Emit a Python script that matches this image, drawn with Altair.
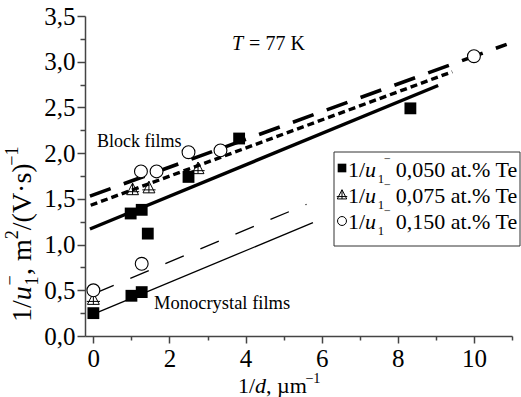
import altair as alt
import pandas as pd

FONT = "Liberation Serif"

# ---------------- data ----------------
sq_x = [0.0, 1.0, 1.27, 0.98, 1.27, 1.43, 2.5, 3.83, 8.33]
sq_y = [0.25, 0.44, 0.48, 1.34, 1.38, 1.12, 1.74, 2.16, 2.49]

tri_x = [0.0, 1.03, 1.46, 2.75]
tri_y = [0.40, 1.60, 1.62, 1.83]

cir_x = [0.0, 1.27, 1.25, 1.66, 2.5, 3.34, 10.0]
cir_y = [0.50, 0.79, 1.80, 1.80, 2.01, 2.03, 3.06]

# fitted straight lines: start and end points
line_names = ["block_050", "block_075", "block_150", "mono_050", "mono_150"]
line_x0 = [-0.09, -0.07, -0.09, 0.0, 0.05]
line_y0 = [1.17, 1.43, 1.53, 0.24, 0.47]
line_x1 = [9.06, 9.43, 10.86, 5.77, 5.6]
line_y1 = [2.74, 2.89, 3.19, 1.24, 1.44]

legend_conc = ["0,050", "0,075", "0,150"]

x_ticks = list(range(0, 12))
y_ticks = [i * 0.25 for i in range(15)]

# ---------------- layout ----------------
PL, PT, PR, PB = 85, 16, 9, 61
W, H = 427, 320

# Times-compatible advance widths (1/1000 em) for composing rich text
W_N = {'1': 500, '/': 278, ',': 250, ' ': 250, 'm': 778, '(': 333, ')': 333,
       'V': 722, '·': 250, 's': 389, '2': 500, '−': 564, 'µ': 500, '0': 500,
       '5': 500, '7': 500, '.': 250, '%': 833, 'T': 611, 'e': 444, 'a': 444,
       't': 278, 'K': 722, '=': 564, 'u': 500, 'd': 500}
W_I = {'u': 500, 'd': 500, 'T': 556}


def text_width(s, italic):
    tab = W_I if italic else W_N
    return sum(tab.get(c, W_N.get(c, 500)) for c in s) / 1000.0


def compose(pieces, x0, y0, F, rotated=False):
    out = []
    adv = 0.0
    for txt, ital, sc, shift, stack, gap in pieces:
        adv += gap * F
        fs = F * sc
        if rotated:
            px, py = x0 - shift * F, y0 - adv
        else:
            px, py = x0 + adv, y0 - shift * F
        out.append(dict(text=txt, italic=ital, size=fs, px=px, py=py,
                        angle=270 if rotated else 0))
        if not stack:
            adv += text_width(txt, ital) * fs
    return out


pieces = []
# y axis title: 1/u_1^-, m^2/(V·s)^-1
pieces += compose([
    ("1/", False, 1, 0, False, 0),
    ("u", True, 1, 0, False, 0),
    ("1", False, 0.65, -0.25, True, 0.03),
    ("−", False, 0.65, 0.55, False, 0),
    (", m", False, 1, 0, False, 0),
    ("2", False, 0.65, 0.45, False, 0),
    ("/(V·s)", False, 1, 0, False, 0),
    ("−1", False, 0.65, 0.45, False, 0),
], 31, 322, 28, rotated=True)
# x axis title: 1/d, µm^-1
pieces += compose([
    ("1/", False, 1, 0, False, 0),
    ("d", True, 1, 0, False, 0),
    (", µm", False, 1, 0, False, 0),
    ("−1", False, 0.65, 0.45, False, 0),
], 238, 393, 22)
# T = 77 K
pieces += compose([
    ("T", True, 1, 0, False, 0),
    ("= 77 K", False, 1, 0, False, 0.3),
], 232, 50, 20)
# annotations
pieces += compose([("Block films", False, 1, 0, False, 0)], 97, 147, 18)
pieces += compose([("Monocrystal films", False, 1, 0, False, 0)], 154, 309, 18.5)
# legend labels
for i, c in enumerate(legend_conc):
    base = 177 + i * 26
    pieces += compose([
        ("1/", False, 1, 0, False, 0),
        ("u", True, 1, 0, False, 0),
        ("1", False, 0.58, -0.28, False, 0.07),
        ("−", False, 0.55, 0.62, False, 0),
        (c + " at.% Te", False, 1, 0, False, 0.22),
    ], 348, base, 22)

# ---------------- scales / axes ----------------
xscale = alt.Scale(domain=[-0.22, 11], nice=False, zero=False)
yscale = alt.Scale(domain=[0, 3.5], nice=False, zero=False)
AX = "#444444"
xaxis = alt.Axis(values=x_ticks, title=None, grid=False,
                 labelExpr="datum.value % 2 == 0 ? datum.label : ''",
                 tickSize={"condition": {"test": "datum.value % 2 == 0", "value": 7}, "value": 4},
                 labelFont=FONT, labelFontSize=25, labelColor="black",
                 labelFlush=False, labelOverlap=False, labelBound=False,
                 domainColor=AX, tickColor=AX, domainWidth=1.5, tickWidth=1.5,
                 labelPadding=3)
yaxis = alt.Axis(values=y_ticks, title=None, grid=False,
                 labelExpr="datum.value % 0.5 == 0 ? replace(format(datum.value, '.1f'), '.', ',') : ''",
                 tickSize={"condition": {"test": "datum.value % 0.5 == 0", "value": 8}, "value": 5},
                 labelFont=FONT, labelFontSize=25, labelColor="black",
                 labelFlush=False, labelOverlap=False, labelBound=False,
                 domainColor=AX, tickColor=AX, domainWidth=1.5, tickWidth=1.5,
                 labelPadding=2)


def X(f="x"):
    return alt.X(f + ":Q", scale=xscale, axis=xaxis)


def Y(f="y"):
    return alt.Y(f + ":Q", scale=yscale, axis=yaxis)


layers = []

# fitted lines
line_styles = {
    "block_050": dict(strokeWidth=3.4),
    "block_075": dict(strokeWidth=3.4, strokeDash=[7, 4]),
    "block_150": dict(strokeWidth=3.6, strokeDash=[22, 14]),
    "mono_050": dict(strokeWidth=1.3),
    "mono_150": dict(strokeWidth=1.3, strokeDash=[20, 18]),
}
for n, a, b, c, d in zip(line_names, line_x0, line_y0, line_x1, line_y1):
    df = pd.DataFrame({"x": [a], "y": [b], "x1": [c], "y1": [d]})
    layers.append(
        alt.Chart(df).mark_rule(color="black", strokeCap="butt", **line_styles[n]).encode(
            x=X(), y=Y(), x2="x1:Q", y2="y1:Q")
    )

TRI = "M0,-1L0.9,0.75L-0.9,0.75Z M-1,0.3L1,0.3 M0,-1L0,0.75"

layers.append(alt.Chart(pd.DataFrame({"x": sq_x, "y": sq_y})).mark_point(
    shape="square", filled=True, color="black", size=140, opacity=1).encode(x=X(), y=Y()))
layers.append(alt.Chart(pd.DataFrame({"x": tri_x, "y": tri_y})).mark_point(
    shape=TRI, filled=False, color="black", size=175, strokeWidth=1, opacity=1).encode(x=X(), y=Y()))
layers.append(alt.Chart(pd.DataFrame({"x": cir_x, "y": cir_y})).mark_point(
    shape="circle", filled=True, fill="white", stroke="black", strokeWidth=1.1,
    size=165, opacity=1, fillOpacity=1).encode(x=X(), y=Y()))

dummy = pd.DataFrame({"d": [0]})

# legend box
layers.append(alt.Chart(dummy).mark_rect(fill="white", stroke="#333333", strokeWidth=1).encode(
    x=alt.value(334 - PL), x2=alt.value(520 - PL), y=alt.value(152 - PT), y2=alt.value(246 - PT)))
# legend symbols
leg_y = [168, 195, 221]
layers.append(alt.Chart(dummy).mark_point(shape="square", filled=True, color="black", size=75, opacity=1).encode(
    x=alt.value(342 - PL), y=alt.value(leg_y[0] - PT)))
layers.append(alt.Chart(dummy).mark_point(shape=TRI, filled=False, color="black", size=110, strokeWidth=1, opacity=1).encode(
    x=alt.value(342 - PL), y=alt.value(leg_y[1] - PT)))
layers.append(alt.Chart(dummy).mark_point(shape="circle", filled=True, fill="white", stroke="black", size=80, strokeWidth=1, opacity=1).encode(
    x=alt.value(342 - PL), y=alt.value(leg_y[2] - PT)))

# rich text pieces
for p in pieces:
    layers.append(alt.Chart(dummy).mark_text(
        text=p["text"], font=FONT, fontSize=p["size"],
        fontStyle="italic" if p["italic"] else "normal",
        align="left", baseline="alphabetic", angle=p["angle"], color="black").encode(
        x=alt.value(p["px"] - PL), y=alt.value(p["py"] - PT)))

chart = alt.layer(*layers).properties(
    width=W, height=H,
    padding={"left": PL, "top": PT, "right": PR, "bottom": PB},
    autosize=alt.AutoSizeParams(type="none"),
    background="white",
).configure_view(stroke=None)

chart.save("out.html", embed_options={"renderer": "svg", "actions": False})
